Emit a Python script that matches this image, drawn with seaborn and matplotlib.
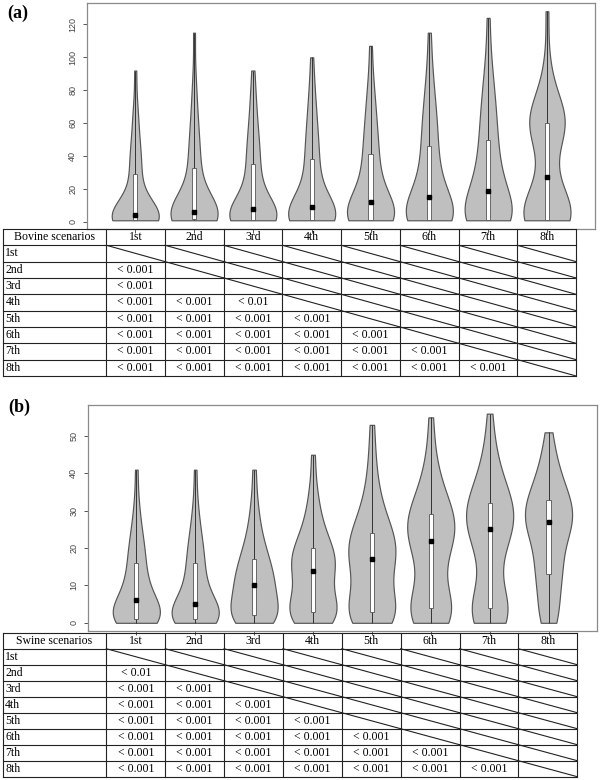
import numpy as np
import pandas as pd
import matplotlib
matplotlib.use('Agg')
import matplotlib.pyplot as plt
from matplotlib.patches import Rectangle
import seaborn as sns

scenarios = ['1st', '2nd', '3rd', '4th', '5th', '6th', '7th', '8th']

# values, 41 per scenario
# (min, Q1 = 11th, median = 21st, Q3 = 31st, max)
bovine_values = [
    [1, 1, 1, 1, 1, 1, 1, 1, 1, 1, 1, 1, 1, 2, 2, 2, 3, 3, 3, 4, 4,
     5, 6, 8, 10, 12, 14, 17, 20, 24, 29, 32, 35, 38, 42, 46, 51, 57, 64, 72, 92],
    [1, 1, 1, 1, 1, 1, 2, 2, 2, 2, 2, 2, 3, 3, 3, 4, 4, 5, 5, 6, 6,
     7, 8, 10, 12, 14, 17, 20, 24, 28, 33, 36, 40, 44, 49, 54, 60, 67, 76, 88, 115],
    [1, 1, 1, 1, 1, 1, 1, 1, 1, 1, 1, 1, 2, 2, 3, 3, 4, 5, 6, 7, 8,
     9, 11, 13, 15, 18, 21, 24, 27, 31, 35, 38, 41, 45, 49, 53, 58, 64, 71, 79, 92],
    [1, 1, 1, 1, 1, 1, 1, 1, 1, 1, 1, 1, 2, 3, 3, 4, 5, 6, 7, 8, 9,
     10, 12, 14, 17, 20, 23, 27, 30, 34, 38, 41, 45, 49, 53, 58, 63, 69, 76, 85, 100],
    [1, 1, 1, 1, 1, 1, 1, 1, 1, 1, 1, 2, 3, 4, 5, 6, 7, 8, 9, 11, 12,
     14, 16, 18, 21, 24, 27, 30, 33, 37, 41, 44, 48, 52, 56, 61, 66, 72, 79, 88, 107],
    [1, 1, 1, 1, 1, 1, 1, 1, 1, 1, 1, 2, 3, 4, 6, 7, 8, 10, 11, 13, 15,
     17, 19, 22, 25, 28, 31, 34, 38, 42, 46, 50, 54, 58, 62, 67, 72, 78, 86, 96, 115],
    [1, 1, 1, 1, 1, 1, 1, 1, 1, 1, 1, 2, 4, 5, 7, 9, 11, 13, 15, 17, 19,
     21, 23, 26, 29, 32, 35, 38, 42, 46, 50, 54, 58, 62, 67, 72, 77, 83, 91, 102, 124],
    [1, 1, 1, 1, 1, 1, 1, 1, 1, 1, 1, 3, 5, 7, 9, 11, 13, 16, 19, 23, 27,
     33, 40, 47, 52, 55, 57, 58, 59, 60, 60, 62, 63, 65, 67, 70, 73, 78, 85, 97, 128],
]
swine_values = [
    [0, 0, 0, 0, 1, 1, 1, 1, 1, 1, 1, 2, 2, 2, 3, 3, 4, 4, 5, 5, 6,
     7, 7, 8, 9, 10, 11, 12, 13, 14, 16, 17, 18, 19, 21, 22, 24, 26, 29, 33, 41],
    [0, 0, 0, 0, 1, 1, 1, 1, 1, 1, 1, 2, 2, 2, 3, 3, 3, 4, 4, 5, 5,
     6, 7, 8, 9, 10, 11, 12, 13, 14, 16, 17, 18, 19, 21, 22, 24, 26, 29, 33, 41],
    [0, 0, 0, 1, 1, 1, 1, 2, 2, 2, 2, 3, 4, 5, 6, 6, 7, 8, 8, 9, 10,
     10, 11, 12, 12, 13, 14, 14, 15, 16, 17, 18, 19, 20, 21, 23, 25, 27, 30, 34, 41],
    [0, 0, 1, 1, 1, 2, 2, 2, 3, 3, 3, 4, 5, 6, 7, 8, 9, 10, 11, 13, 14,
     14, 15, 15, 16, 17, 17, 18, 18, 19, 20, 21, 22, 23, 24, 26, 28, 30, 33, 37, 45],
    [0, 0, 1, 1, 1, 2, 2, 2, 3, 3, 3, 5, 6, 8, 9, 11, 12, 13, 14, 16, 17,
     17, 18, 19, 19, 20, 21, 22, 22, 23, 24, 25, 26, 28, 29, 31, 33, 36, 40, 45, 53],
    [0, 0, 1, 1, 2, 2, 3, 3, 3, 4, 4, 6, 8, 10, 12, 14, 16, 18, 19, 21, 22,
     22, 23, 24, 25, 25, 26, 27, 27, 28, 29, 30, 31, 32, 33, 35, 37, 39, 42, 47, 55],
    [0, 0, 1, 1, 2, 2, 3, 3, 4, 4, 4, 7, 10, 13, 16, 18, 20, 21, 23, 24, 25,
     26, 26, 27, 28, 28, 29, 30, 30, 31, 32, 33, 34, 35, 36, 38, 40, 42, 45, 49, 56],
    [0, 1, 2, 3, 4, 6, 11, 12, 13, 13, 13, 15, 17, 19, 21, 22, 23, 24, 25, 26, 27,
     27, 28, 28, 29, 29, 30, 31, 31, 32, 33, 34, 35, 36, 37, 38, 40, 42, 44, 47, 51],
]

# pairwise p-values (lower triangle, row by row)
bovine_p = [
    [],
    ['< 0.001'],
    ['< 0.001', ''],
    ['< 0.001', '< 0.001', '< 0.01'],
    ['< 0.001'] * 4,
    ['< 0.001'] * 5,
    ['< 0.001'] * 6,
    ['< 0.001'] * 7,
]
swine_p = [
    [],
    ['< 0.01'],
    ['< 0.001'] * 2,
    ['< 0.001'] * 3,
    ['< 0.001'] * 4,
    ['< 0.001'] * 5,
    ['< 0.001'] * 6,
    ['< 0.001'] * 7,
]

SERIF = 'Liberation Serif'
SANS = 'Liberation Sans'


def violin_panel(ax, values, yticks, ylim):
    df = pd.DataFrame({
        'scenario': np.repeat(scenarios, [len(v) for v in values]),
        'value': np.concatenate(values),
    })
    sns.violinplot(data=df, x='scenario', y='value', order=scenarios, ax=ax,
                   color='#bfbfbf', saturation=1, cut=0, inner=None,
                   density_norm='width', width=0.8, bw_adjust=0.9,
                   linecolor='#555555', linewidth=0.85)
    # R-style inner box: whisker line, white IQR box, black median square
    for i, v in enumerate(values):
        q1, med, q3 = np.percentile(v, [25, 50, 75])
        ax.vlines(i, min(v), max(v), color='#333333', lw=0.7, zorder=3)
        ax.add_patch(Rectangle((i - 0.035, q1), 0.07, q3 - q1, fc='white',
                               ec='#555555', lw=0.6, zorder=4))
        ax.plot(i, med, 's', color='black', ms=3.2, zorder=5)
    ax.set_xlim(-0.82, 7.82)
    ax.set_ylim(*ylim)
    ax.set_xticks(range(8))
    ax.set_xticklabels([])
    ax.set_yticks(yticks)
    ax.set_yticklabels([str(t) for t in yticks], family=SANS, fontsize=6.5,
                       color='#444444', rotation=90, va='center')
    ax.tick_params(axis='both', direction='out', length=3, width=0.7,
                   color='#555555', pad=4)
    ax.set_xlabel('')
    ax.set_ylabel('')
    for s in ax.spines.values():
        s.set_color('#8a8a8a')
        s.set_linewidth(0.9)


def table_panel(ax, title, pvals):
    first = 1.76
    n = len(scenarios)
    ax.set_xlim(0, first + n)
    ax.set_ylim(n + 1, 0)
    ax.axis('off')
    kw = dict(color='#222222', lw=0.8, clip_on=False)
    for r in range(n + 2):
        ax.plot([0, first + n], [r, r], **kw)
    for c in [0] + [first + j for j in range(n + 1)]:
        ax.plot([c, c], [0, n + 1], **kw)
    ax.text(first / 2, 0.5, title, ha='center', va='center', family=SERIF, fontsize=8.5)
    for j, s in enumerate(scenarios):
        ax.text(first + j + 0.5, 0.5, s, ha='center', va='center', family=SERIF, fontsize=8.5)
    for i, s in enumerate(scenarios):
        r = i + 1
        ax.text(0.04, r + 0.5, s, ha='left', va='center', family=SERIF, fontsize=8.5)
        for j in range(n):
            x0 = first + j
            if j >= i:
                ax.plot([x0, x0 + 1], [r, r + 1], **kw)
            else:
                ax.text(x0 + 0.5, r + 0.5, pvals[i][j], ha='center', va='center',
                        family=SERIF, fontsize=8.5)


fig = plt.figure(figsize=(6, 7.8), dpi=100)

ax_a = fig.add_axes([0.145, 0.7064, 0.847, 0.2897])
violin_panel(ax_a, bovine_values, [0, 20, 40, 60, 80, 100, 120], (-4.3, 133))
tab_a = fig.add_axes([0.005, 0.518, 0.955, 0.1885])
table_panel(tab_a, 'Bovine scenarios', bovine_p)

ax_b = fig.add_axes([0.1467, 0.191, 0.848, 0.2897])
violin_panel(ax_b, swine_values, [0, 10, 20, 30, 40, 50], (-2.2, 58.3))
tab_b = fig.add_axes([0.0045, 0.0042, 0.9577, 0.1846])
table_panel(tab_b, 'Swine scenarios', swine_p)

fig.text(0.012, 0.983, '(a)', family=SERIF, fontweight='bold', fontsize=13, va='center')
fig.text(0.013, 0.4776, '(b)', family=SERIF, fontweight='bold', fontsize=13, va='center')

fig.savefig('out.png', dpi=100)
